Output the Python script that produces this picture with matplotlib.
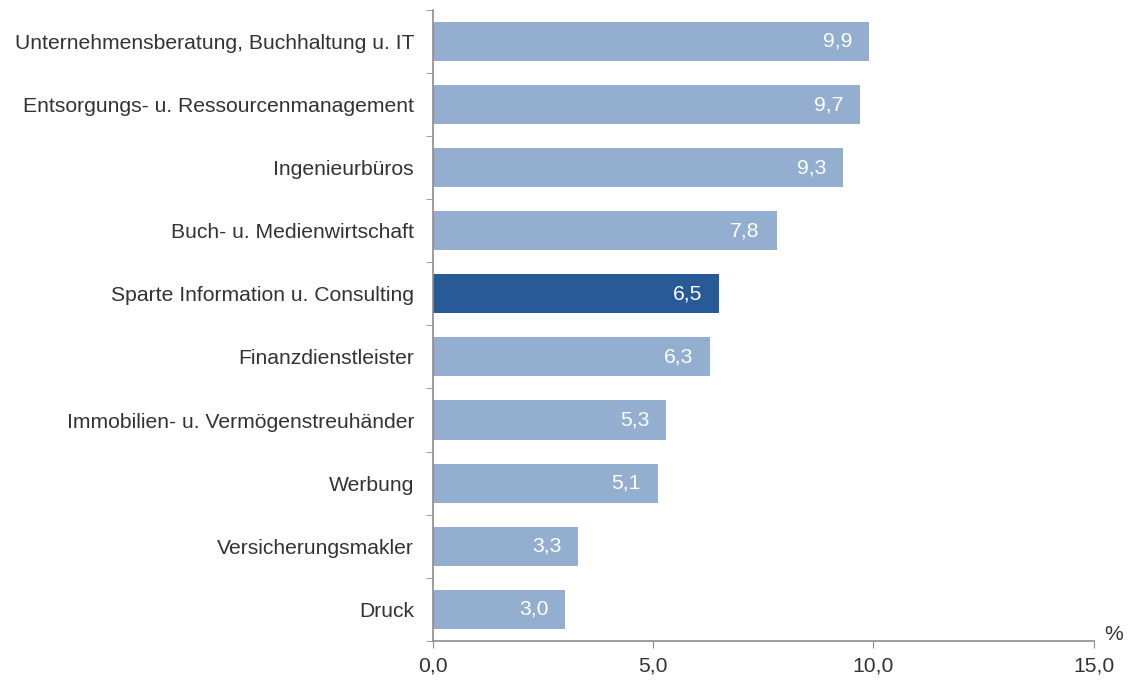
import matplotlib
matplotlib.use("Agg")
import matplotlib.pyplot as plt
import numpy as np
from matplotlib.ticker import FixedLocator

plt.rcParams['font.family'] = ['Liberation Sans', 'DejaVu Sans']

# Daten (von oben nach unten)
branchen = ["Unternehmensberatung, Buchhaltung u. IT",
            "Entsorgungs- u. Ressourcenmanagement",
            "Ingenieurbüros",
            "Buch- u. Medienwirtschaft",
            "Sparte Information u. Consulting",
            "Finanzdienstleister",
            "Immobilien- u. Vermögenstreuhänder",
            "Werbung",
            "Versicherungsmakler",
            "Druck"]
werte = [9.9, 9.7, 9.3, 7.8, 6.5, 6.3, 5.3, 5.1, 3.3, 3.0]
hervorgehoben = "Sparte Information u. Consulting"
x_ticks = [0, 5, 10, 15]

hell = '#93aece'
dunkel = '#285a98'
grau = '#8c8c8c'
text_farbe = '#333333'
fs = 15.2

fig = plt.figure(figsize=(11.3, 6.8), dpi=100)
ax = fig.add_axes([0.383, 0.0575, 0.585, 0.928])

n = len(branchen)
y = np.arange(n)[::-1]
farben = [dunkel if b == hervorgehoben else hell for b in branchen]
ax.barh(y, werte, height=0.62, color=farben, zorder=2)

# Werte in die Balken schreiben
for yi, w in zip(y, werte):
    ax.text(w - 0.38, yi, f"{w:.1f}".replace('.', ','), ha='right', va='center',
            color='white', fontsize=fs)

ax.set_xlim(0, 15)
ax.set_ylim(-0.5, n - 0.5)

ax.set_yticks(y)
ax.set_yticklabels(branchen, fontsize=fs, color=text_farbe)
ax.yaxis.set_minor_locator(FixedLocator(np.arange(-0.5, n, 1.0)))
ax.tick_params(axis='y', which='major', length=0, pad=13.5)
ax.tick_params(axis='y', which='minor', length=5, color=grau, direction='out')

ax.set_xticks(x_ticks)
ax.set_xticklabels([f"{t:.1f}".replace('.', ',') for t in x_ticks],
                   fontsize=fs, color=text_farbe)
ax.tick_params(axis='x', length=5, color=grau, direction='out', pad=6)

for s in ['top', 'right']:
    ax.spines[s].set_visible(False)
for s in ['left', 'bottom']:
    ax.spines[s].set_color(grau)
    ax.spines[s].set_linewidth(1.2)

ax.text(1.03, 0.01, "%", transform=ax.transAxes, ha='center', va='center',
        fontsize=fs, color=text_farbe)

fig.savefig("out.png", dpi=100)
